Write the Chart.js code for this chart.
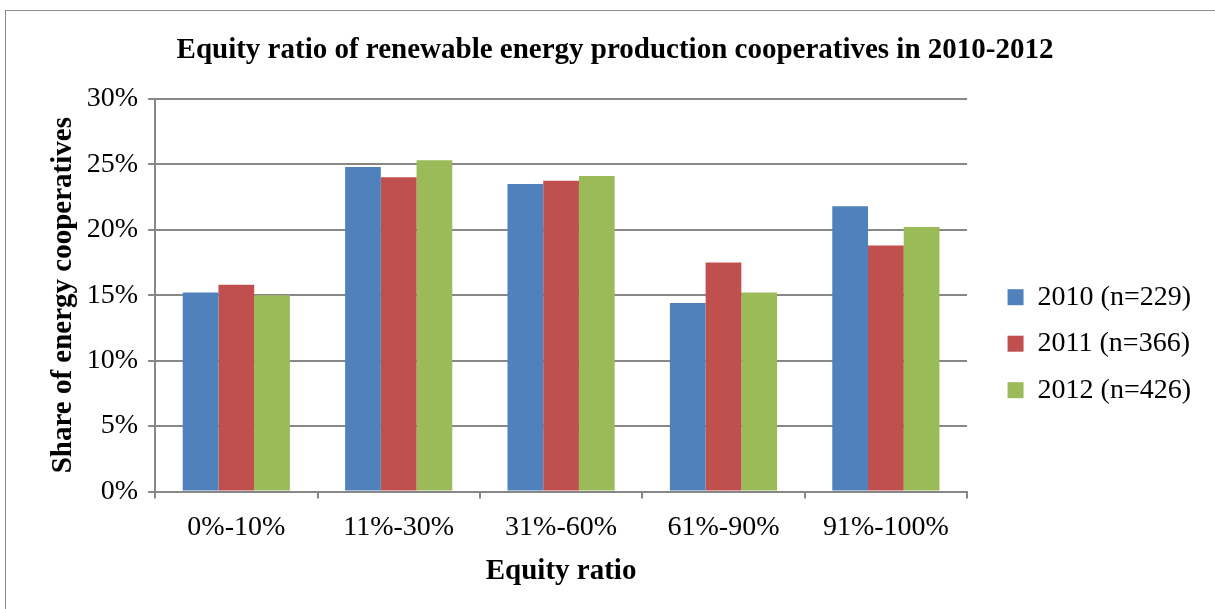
<!DOCTYPE html>
<html>
<head>
<meta charset="utf-8">
<script src="https://cdn.jsdelivr.net/npm/chart.js@4.4.1/dist/chart.umd.min.js"></script>
<style>
  body { margin: 0; background: #fff; }
  #frame { position: absolute; left: 5px; top: 10px; width: 1240px; height: 640px; border: 1px solid #8c8c8c; }
  #wrap { position: absolute; left: 0; top: 0; width: 1215px; height: 609px; }
</style>
</head>
<body>
<div id="frame"></div>
<div id="wrap"><canvas id="barChart"></canvas></div>
<script>
const categories = ["0%-10%", "11%-30%", "31%-60%", "61%-90%", "91%-100%"];
const seriesNames = ["2010 (n=229)", "2011 (n=366)", "2012 (n=426)"];
const values2010 = [15.2, 24.8, 23.5, 14.4, 21.8];
const values2011 = [15.8, 24.0, 23.75, 17.5, 18.8];
const values2012 = [15.0, 25.3, 24.1, 15.2, 20.2];
const colors = ['#4F81BD', '#C0504D', '#9BBB59'];

const serif = "'Liberation Serif', 'Times New Roman', serif";
const gridGray = '#878787';

const data = {
  labels: categories,
  datasets: [values2010, values2011, values2012].map((vals, i) => ({
    label: seriesNames[i],
    data: vals,
    backgroundColor: colors[i],
    borderWidth: 0,
    categoryPercentage: 0.66,
    barPercentage: 1.0
  }))
};

// the legend draws its items "padding" px in from its left edge, so add a little room at the end
const legendLabels = chart =>
  Chart.defaults.plugins.legend.labels.generateLabels(chart)
    .map(item => ({ ...item, text: item.text + '\u00a0' }));

const config = {
  type: 'bar',
  data: data,
  options: {
    responsive: false,
    animation: false,
    devicePixelRatio: 1,
    layout: { padding: { left: 22, right: 7, top: 0, bottom: 16 } },
    plugins: {
      title: {
        display: true,
        text: 'Equity ratio of renewable energy production cooperatives in 2010-2012',
        color: '#000',
        font: { family: serif, size: 29, weight: 'bold' },
        padding: { top: 33, bottom: 31 }
      },
      legend: {
        position: 'right',
        title: { display: true, text: ' ', padding: { top: 80, bottom: 0 } },
        labels: {
          color: '#000',
          font: { family: serif, size: 28 },
          boxWidth: 16,
          boxHeight: 16,
          padding: 18.5,
          generateLabels: legendLabels
        }
      },
      tooltip: { enabled: false }
    },
    scales: {
      x: {
        grid: {
          offset: true,
          drawOnChartArea: false,
          color: gridGray,
          lineWidth: 2,
          tickLength: 7
        },
        border: { color: gridGray, width: 2 },
        ticks: { color: '#000', font: { family: serif, size: 28 }, padding: 12 },
        title: {
          display: true,
          text: 'Equity ratio',
          color: '#000',
          font: { family: serif, size: 29, weight: 'bold' },
          padding: { top: -2 }
        }
      },
      y: {
        min: 0,
        max: 30,
        ticks: {
          stepSize: 5,
          color: '#000',
          font: { family: serif, size: 28 },
          padding: 10,
          callback: v => v + '%'
        },
        grid: { color: gridGray, lineWidth: 2, tickLength: 7 },
        border: { color: gridGray, width: 2 },
        title: {
          display: true,
          text: 'Share of energy cooperatives',
          color: '#000',
          font: { family: serif, size: 29, weight: 'bold' },
          padding: { top: 24, bottom: -4 }
        }
      },
      spacer: {
        position: 'right',
        display: false,
        afterFit: scale => { scale.width = 22; }
      }
    }
  }
};

const canvas = document.getElementById('barChart');
canvas.width = 1215;
canvas.height = 609;
const barChart = new Chart(canvas, config);
</script>
</body>
</html>
